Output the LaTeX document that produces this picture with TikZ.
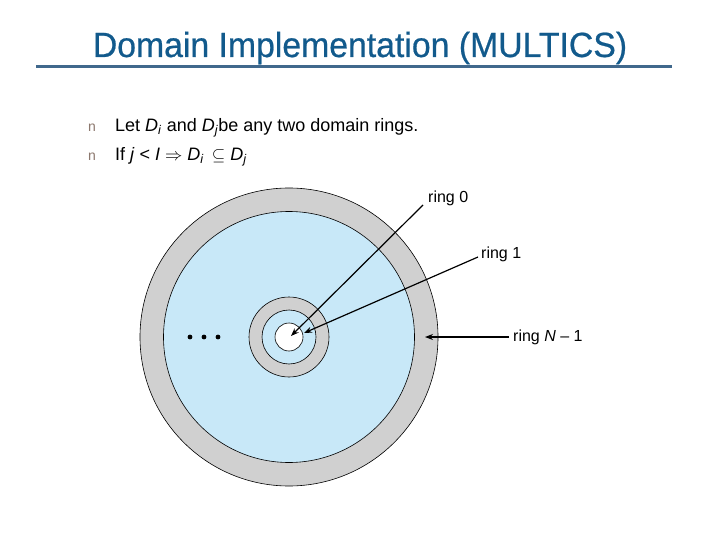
\documentclass[tikz,border=0pt]{standalone}
\usepackage{fontspec}
\setmainfont{Liberation Sans}
\newfontfamily\titlefont[FakeBold=0.6]{Liberation Sans}
\usetikzlibrary{arrows.meta}
\definecolor{titleblue}{RGB}{18,90,140}
\definecolor{rulecol}{RGB}{64,104,140}
\definecolor{ringgray}{RGB}{208,208,208}
\definecolor{ringblue}{RGB}{200,232,248}
\definecolor{bulletcol}{RGB}{140,120,110}
\tikzset{
  ringline/.style={draw=black,line width=0.6pt},
  pointer/.style={draw=black,line width=1.2pt,-{Stealth[length=8pt,width=6pt]}},
  ringlabel/.style={font=\fontsize{16}{18}\selectfont,inner sep=0pt,anchor=west},
  bulletmark/.style={font=\fontsize{14}{16}\selectfont,text=bulletcol,inner sep=0pt,anchor=west},
  bullettext/.style={font=\fontsize{18}{21}\selectfont,inner sep=0pt,anchor=west},
}
\begin{document}
\begin{tikzpicture}[x=1pt,y=-1pt]
\useasboundingbox (0,0) rectangle (720,540);
% title
\node[font=\titlefont\fontsize{35}{40}\selectfont,text=titleblue,inner sep=0pt,anchor=base,xscale=0.965] (title) at (360,57) {Domain Implementation (MULTICS)};
\draw[rulecol,line width=3pt] (36,67) -- (672,67);
% bullets
\node[bulletmark] (b1) at (88,128) {n};
\node[bullettext] (t1) at (115,128) {Let \textit{D}\textsubscript{\textit{i}} and \textit{D}\textsubscript{\textit{j}}be any two domain rings.};
\node[bulletmark] (b2) at (88,157) {n};
\node[bullettext] (t2) at (115,157) {If \textit{j} < \textit{I} $\Rightarrow$ \textit{D}\textsubscript{\textit{i}} \,$\subseteq$ \textit{D}\textsubscript{\textit{j}}};
% rings
\coordinate (c) at (289,337);
\fill[ringgray] (c) circle (149);
\draw[ringline] (c) circle (149);
\fill[ringblue] (c) circle (125.5);
\draw[ringline] (c) circle (125.5);
\fill[ringgray] (c) circle (40);
\draw[ringline] (c) circle (40);
\fill[ringblue] (c) circle (27);
\draw[ringline] (c) circle (27);
\fill[white] (c) circle (14);
\draw[ringline] (c) circle (14);
% dots
\foreach \x in {190,204,218} \fill (\x,337) circle (2.4);
% labels
\node[ringlabel] (r0) at (428,198) {ring 0};
\node[ringlabel] (r1) at (481,254) {ring 1};
\node[ringlabel] (rn) at (513,337) {ring \textit{N} – 1};
\coordinate (s0) at (423,205);
\coordinate (s1) at (478,257);
\coordinate (sn) at (509,337);
\coordinate (e0) at (291,336);
\coordinate (e1) at (304,333);
\coordinate (en) at (425,337);
\draw[pointer] (s0) -- (e0);
\draw[pointer] (s1) -- (e1);
\draw[pointer] (sn) -- (en);
\end{tikzpicture}
\end{document}
